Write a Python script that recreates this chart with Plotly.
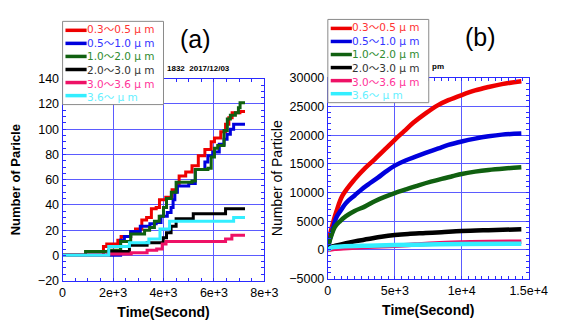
import plotly.graph_objects as go

# ---------------- data ----------------
series_names = ["0.3～0.5 μ m", "0.5～1.0 μ m", "1.0～2.0 μ m", "2.0～3.0 μ m", "3.0～3.6 μ m", "3.6～ μ m"]
line_colors = ["#ee0000", "#0000dd", "#106010", "#000000", "#ee1166", "#33eeff"]
text_colors = ["#ff3333", "#3333ff", "#2e8b2e", "#333333", "#ff3399", "#66f0ff"]

# (a) cumulative counts (step)
a_t = [
    [0, 1620, 1750, 2190, 2320, 2700, 2890, 3140, 3330, 3520, 3710, 3840, 4090, 4340, 4530, 4620, 4880, 5130, 5380, 5640, 5890, 6020, 6270, 6460, 6590, 6720, 7030, 7230],
    [0, 2300, 2450, 2700, 3080, 3460, 3710, 3900, 4150, 4300, 4380, 4450, 4550, 5000, 5260, 5640, 5760, 5950, 6210, 6400, 6520, 6650, 6780, 6970, 7230],
    [0, 910, 1830, 2300, 2700, 3250, 3450, 3640, 3830, 4000, 4120, 4310, 4500, 5130, 5260, 5760, 5890, 6020, 6150, 6400, 6530, 6650, 6850, 6970, 7035, 7230],
    [0, 1830, 2650, 3350, 3990, 4120, 4300, 4500, 5180, 6460, 7230],
    [0, 1800, 2720, 3350, 3730, 3950, 4100, 6460, 6710, 7230],
    [0, 1830, 2650, 3420, 3860, 4240, 6780, 7230],
]
a_y = [
    [0, 7, 9, 12, 15, 18, 21, 28, 30, 37, 38, 44, 46, 52, 57, 63, 66, 71, 79, 84, 90, 93, 98, 104, 109, 113, 114, 114],
    [0, 12, 15, 19, 23, 25, 26, 31, 34, 38, 44, 50, 55, 57, 68, 74, 79, 82, 88, 92, 96, 100, 104, 104, 104],
    [0, 3, 4, 11, 17, 20, 22, 27, 31, 38, 45, 50, 58, 59, 68, 69, 78, 85, 87, 99, 108, 111, 113, 117, 121, 121],
    [0, 3, 8, 10, 14, 18, 23, 29, 33, 37, 37],
    [0, 1, 2, 4, 5, 9, 11, 13, 16, 16],
    [0, 7, 10, 13, 21, 27, 30, 30],
]

# (b) cumulative counts
b_t = [
    [0, 150, 300, 650, 1100, 2000, 2800, 3500, 4300, 5000, 5700, 6400, 7300, 8200, 9000, 10000, 11000, 12000, 13000, 14450],
    [0, 100, 290, 640, 1000, 1360, 2000, 2540, 3000, 3740, 4300, 5000, 5800, 6600, 7300, 8260, 9000, 10000, 11000, 12000, 13000, 14450],
    [0, 80, 164, 520, 900, 1357, 2000, 2786, 3500, 4200, 5000, 5900, 6830, 7700, 8500, 9300, 10000, 11000, 12000, 13200, 14450],
    [0, 164, 500, 1357, 2000, 3000, 4000, 5000, 6000, 7300, 8500, 10000, 12000, 14450],
    [0, 500, 1500, 3000, 5000, 6500, 8000, 10000, 12000, 14450],
    [0, 300, 1000, 3000, 5000, 7500, 10000, 14450],
]
b_y = [
    [0, 2500, 4000, 6800, 9500, 12300, 14300, 15800, 17600, 19200, 20700, 22200, 23800, 25200, 26100, 27000, 27800, 28400, 28900, 29400],
    [0, 1500, 2900, 5700, 7000, 8200, 9500, 10600, 11400, 12600, 13600, 14700, 15600, 16300, 16900, 17700, 18300, 18900, 19400, 19800, 20100, 20300],
    [0, 1000, 1800, 4000, 5000, 5900, 6800, 7600, 8500, 9200, 9900, 10600, 11300, 11900, 12400, 12850, 13250, 13650, 13950, 14200, 14400],
    [0, 400, 700, 1200, 1500, 1900, 2300, 2600, 2800, 2950, 3100, 3300, 3450, 3600],
    [0, 200, 350, 550, 750, 950, 1150, 1300, 1400, 1450],
    [0, 450, 600, 750, 850, 950, 1050, 1100],
]

a_xticks = [0, 2000, 4000, 6000, 8000]
a_xlabels = ["0", "2e+3", "4e+3", "6e+3", "8e+3"]
b_xticks = [0, 5000, 10000, 15000]
b_xlabels = ["0", "5e+3", "1e+4", "1.5e+4"]

# ---------------- figure ----------------
fig = go.Figure()
for i in range(6):
    fig.add_trace(go.Scatter(
        x=a_t[i], y=a_y[i], mode="lines", line=dict(color=line_colors[i], width=3, shape="hv"),
        name=series_names[i], xaxis="x", yaxis="y", showlegend=False))
for i in range(6):
    fig.add_trace(go.Scatter(
        x=b_t[i], y=b_y[i], mode="lines", line=dict(color=line_colors[i], width=4.5, shape="spline"),
        name=series_names[i], xaxis="x2", yaxis="y2", showlegend=False))

W, H = 565, 323
grid = "#5b5bff"
axline = "#2a2aff"
tickfont = dict(family="Liberation Sans, Arial", size=12.5, color="black")
common = dict(showgrid=True, gridcolor=grid, gridwidth=1, showline=True, linecolor=axline,
              linewidth=1, mirror="ticks", ticks="inside", ticklen=3, tickcolor=axline,
              tickfont=tickfont, zeroline=False)


def px(x):
    return x / W


def py(y):
    return 1 - y / H


# compact legend boxes (paper shapes + one multi-line text block each)
LEG_FONT = 10.5
ROW_H = LEG_FONT * 1.3
shapes = []
annotations = []
legend_text = "<br>".join(
    f"<span style='color:{text_colors[i]}'>{series_names[i]}</span>" for i in range(6))
for (bx0, by0, bx1, by1) in [(62, 15, 167, 102), (338, 13, 443, 100)]:
    mid = (by0 + by1) / 2
    shapes.append(dict(type="rect", xref="paper", yref="paper", x0=px(bx0), x1=px(bx1),
                       y0=py(by1), y1=py(by0), fillcolor="white",
                       line=dict(color="#8a8a8a", width=1), layer="above"))
    for i in range(6):
        yc = mid + (i - 2.5) * ROW_H
        shapes.append(dict(type="line", xref="paper", yref="paper", x0=px(bx0 + 3), x1=px(bx0 + 25),
                           y0=py(yc), y1=py(yc), line=dict(color=line_colors[i], width=3.5), layer="above"))
    annotations.append(dict(text=legend_text, x=px(bx0 + 24), y=py(mid), xref="paper", yref="paper",
                            xanchor="left", yanchor="middle", align="left", showarrow=False, borderpad=0,
                            font=dict(family="DejaVu Sans, Noto Sans CJK JP", size=LEG_FONT, color="#333")))

annotations += [
    dict(text="(a)", x=px(200), y=py(33), xref="paper", yref="paper", showarrow=False,
         xanchor="center", yanchor="middle", font=dict(family="Liberation Sans, Arial", size=25, color="black")),
    dict(text="(b)", x=px(497), y=py(31), xref="paper", yref="paper", showarrow=False,
         xanchor="center", yanchor="middle", font=dict(family="Liberation Sans, Arial", size=25, color="black")),
    dict(text="<b>1832  2017/12/03</b>", x=px(169), y=py(64), xref="paper", yref="paper",
         xanchor="left", yanchor="middle", showarrow=False,
         font=dict(family="Liberation Sans, Arial", size=8, color="black")),
    dict(text="<b>pm</b>", x=px(444), y=py(62), xref="paper", yref="paper",
         xanchor="left", yanchor="middle", showarrow=False,
         font=dict(family="Liberation Sans, Arial", size=8, color="black")),
]

fig.update_layout(
    width=W, height=H, margin=dict(l=0, r=0, t=0, b=0),
    paper_bgcolor="white", plot_bgcolor="white", showlegend=False,
    xaxis=dict(domain=[px(62), px(272)], range=[0, 8000], tickvals=a_xticks, ticktext=a_xlabels,
               minor=dict(dtick=500, ticks="inside", ticklen=3, tickcolor=axline, showgrid=False),
               title=dict(text="<b>Time(Second)</b>", font=dict(family="Liberation Sans, Arial", size=14, color="black"), standoff=8),
               anchor="y", **common),
    yaxis=dict(domain=[py(286), py(75)], range=[-20, 140], dtick=20,
               minor=dict(dtick=5, ticks="inside", ticklen=3, tickcolor=axline, showgrid=False),
               title=dict(text="<b>Number of Paricle</b>", font=dict(family="Liberation Sans, Arial", size=13, color="black"), standoff=14),
               anchor="x", **common),
    xaxis2=dict(domain=[px(338), px(547)], range=[0, 15000], tickvals=b_xticks, ticktext=b_xlabels,
                minor=dict(dtick=500, ticks="inside", ticklen=3, tickcolor=axline, showgrid=False),
                title=dict(text="<b>Time(Second)</b>", font=dict(family="Liberation Sans, Arial", size=14, color="black"), standoff=8),
                anchor="y2", **common),
    yaxis2=dict(domain=[py(284), py(74)], range=[-5000, 30000], dtick=5000, tickformat="d",
                minor=dict(dtick=1000, ticks="inside", ticklen=3, tickcolor=axline, showgrid=False),
                title=dict(text="Number of Particle", font=dict(family="Liberation Sans, Arial", size=14, color="black"), standoff=3),
                anchor="x2", **common),
    shapes=shapes,
    annotations=annotations,
)

fig.write_html("out.html")
